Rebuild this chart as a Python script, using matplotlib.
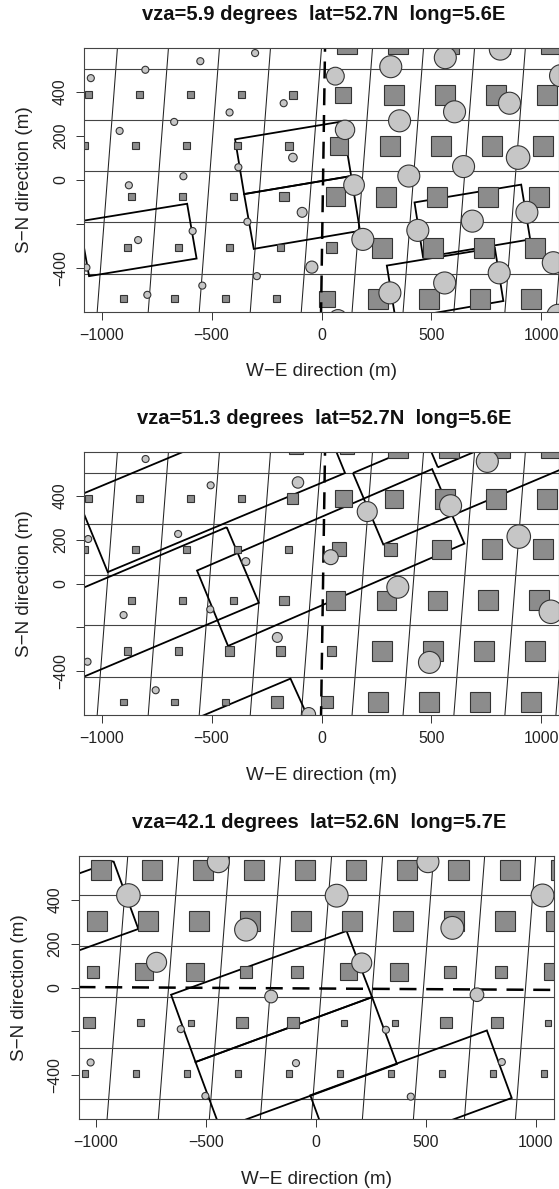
import matplotlib
matplotlib.use("Agg")
import matplotlib.pyplot as plt
from matplotlib.patches import Rectangle, Circle, Polygon

plt.rcParams['font.family'] = ['Liberation Sans', 'DejaVu Sans']

W, H = 559, 1189
titles = ["vza=5.9 degrees  lat=52.7N  long=5.6E",
          "vza=51.3 degrees  lat=52.7N  long=5.6E",
          "vza=42.1 degrees  lat=52.6N  long=5.7E"]

# Thin grid: panels 1 and 2 share it
hlines_a = [504, 272, 41, -191, -425]
vtop_a = [-928, -696, -464, -232, 0, 232, 464, 696, 927, 1160]
vbot_a = [-1020, -788, -556, -324, -92, 139, 371, 602, 834, 1066]
hlines_c = [420, 188, -44, -276, -508]
vtop_c = [-856, -624, -393, -161, 71, 303, 535, 767, 999]
vbot_c = [-950, -717, -485, -253, -21, 211, 443, 675, 907]

# Square lattice, panels 1 and 2
sq_a_y = [620, 387, 156, -76, -308, -540]
sq_a_x = [
    [-117, 115, 349, 581, 813, 1044],
    [-1059, -827, -595, -363, -131, 99, 331, 563, 795, 1027],
    [-1077, -845, -613, -381, -149, 81, 313, 545, 777, 1009],
    [-863, -631, -402, -171, 63, 295, 527, 759, 991],
    [-882, -650, -418, -186, 44, 276, 508, 740, 972],
    [-900, -668, -436, -204, 26, 258, 490, 722, 954],
]
sq1_side = [
    [20, 91, 91, 91, 91, 91],
    [32, 32, 32, 32, 36, 71, 91, 91, 91, 91],
    [32, 32, 32, 32, 36, 81, 91, 91, 91, 91],
    [32, 32, 32, 42, 88, 91, 91, 91, 91],
    [32, 32, 32, 32, 49, 91, 91, 91, 91],
    [32, 32, 32, 32, 75, 91, 91, 91, 91],
]
sq2_side = [
    [62, 62, 91, 91, 91, 91],
    [32, 32, 32, 32, 49, 78, 81, 91, 91, 91],
    [30, 32, 30, 32, 32, 65, 62, 88, 91, 91],
    [32, 32, 32, 42, 88, 88, 88, 91, 91],
    [32, 32, 42, 42, 42, 91, 91, 91, 91],
    [30, 30, 30, 55, 55, 91, 91, 91, 91],
]
# Square lattice, panel 3
sq3_y = [536, 304, 71, -161, -393]
sq3_x = [
    [-976, -744, -512, -280, -48, 184, 416, 648, 880, 1112],
    [-996, -764, -532, -300, -68, 164, 396, 628, 860, 1092],
    [-1014, -782, -550, -318, -86, 146, 378, 610, 842, 1074],
    [-1032, -800, -568, -336, -104, 128, 360, 592, 824, 1056],
    [-1051, -819, -587, -355, -123, 109, 341, 573, 805, 1037],
]
sq3_side = [
    [91] * 10,
    [91] * 10,
    [52, 78, 81, 52, 52, 78, 81, 52, 52, 78],
    [52, 32, 29, 52, 52, 29, 29, 52, 52, 29],
    [29] * 10,
]

# Circles: x, y, diameter
c1_x = [-1049, -801, -551, -302, -172, -418, -670, -918, -130, -378, -628, -876, -88, -337, -586, -834, -44, -294, -542, -792, -1069,
        63, 315, 563, 813, 355, 605, 855, 1087, 107, 894, 646, 397, 148, 934, 686, 438, 188, 1054, 808, 560, 311, 75, 1075]
c1_y = [463, 501, 540, 577, 349, 307, 264, 223, 102, 58, 17, -24, -147, -190, -232, -273, -396, -437, -480, -522, -398,
        472, 515, 556, 595, 269, 310, 349, 474, 228, 102, 61, 18, -23, -147, -187, -229, -270, -376, -422, -468, -513, -630, -615]
c1_d = [32, 32, 32, 32, 32, 32, 32, 32, 39, 32, 32, 32, 45, 32, 32, 32, 55, 32, 32, 32, 32,
        81, 100, 100, 100, 100, 100, 100, 100, 88, 107, 100, 100, 94, 100, 100, 100, 100, 100, 100, 100, 100, 82, 100]
c2_x = [-800, -504, -107, -652, -1061, 208, 587, 754, 897, 42, -344, 347, 1043, -506, -900, -201, -1064, 491, -754, -58]
c2_y = [568, 448, 461, 226, 203, 328, 355, 557, 214, 120, 100, -17, -129, -118, -144, -246, -357, -360, -487, -597]
c2_d = [32, 32, 52, 32, 32, 91, 100, 100, 107, 68, 36, 100, 107, 32, 32, 45, 32, 100, 32, 62]
c3_x = [-444, 509, -853, 94, 1030, -318, 620, -725, 208, -204, 732, -615, 318, -1025, -91, 845, -503, 431]
c3_y = [574, 574, 420, 419, 420, 264, 272, 115, 112, -41, -33, -190, -193, -342, -345, -340, -495, -498]
c3_d = [100, 100, 107, 104, 104, 104, 104, 91, 91, 58, 62, 32, 32, 32, 32, 32, 32, 32]

# Tilted footprints (corner lists)
poly1 = [
    [(-611, -108), (-568, -357), (-1057, -437), (-1101, -188)],
    [(-393, 185), (94, 266), (135, 18), (-352, -64)],
    [(135, 18), (175, -231), (-308, -313), (-352, -64)],
    [(423, -102), (908, -21), (949, -270), (462, -352)],
    [(297, -389), (788, -308), (827, -550), (337, -635)],
]
poly2 = [
    [(-972, 52), (107, 504), (-34, 850), (-1113, 398)],
    [(-431, 257), (-285, -88), (-1361, -544), (-1507, -199)],
    [(-566, 59), (503, 522), (650, 182), (-425, -285)],
    [(143, 504), (281, 178), (1357, 634), (1219, 960)],
    [(529, 530), (1605, 986), (1495, 1246), (419, 790)],
    [(-141, -434), (-1217, -890), (-1097, -1155), (-21, -699)],
]
poly3 = [
    [(-659, -33), (139, 258), (255, -44), (-548, -340)],
    [(-548, -340), (255, -44), (368, -349), (-435, -645)],
    [(-26, -492), (777, -196), (890, -504), (87, -800)],
    [(-921, 577), (-808, 267), (-1611, -24), (-1724, 286)],
]

dash1 = ([16, -2], [600, -600])
dash3 = ([-1080, 1080], [2, -11])

panels = [
    dict(box=(84, 48, 475, 264), tx=324, ty=15, hl=hlines_a, vt=vtop_a, vb=vbot_a,
         sx=sq_a_x, sy=sq_a_y, ss=sq1_side, cx=c1_x, cy=c1_y, cd=c1_d, poly=poly1, dash=dash1, off=5.3),
    dict(box=(84, 452, 475, 263), tx=324, ty=418, hl=hlines_a, vt=vtop_a, vb=vbot_a,
         sx=sq_a_x, sy=sq_a_y, ss=sq2_side, cx=c2_x, cy=c2_y, cd=c2_d, poly=poly2, dash=dash1, off=5.3),
    dict(box=(78.5, 856, 475, 263), tx=319, ty=822, hl=hlines_c, vt=vtop_c, vb=vbot_c,
         sx=sq3_x, sy=sq3_y, ss=sq3_side, cx=c3_x, cy=c3_y, cd=c3_d, poly=poly3, dash=dash3, off=0),
]

fig = plt.figure(figsize=(W / 100, H / 100), dpi=100)
GR = '#333333'
for i, p in enumerate(panels):
    l, t, w, h = p['box']
    ax = fig.add_axes([l / W, 1 - (t + h) / H, w / W, h / H])
    ax.set_xlim(-1080, 1080)
    ax.set_ylim(-600, 600)
    for s in ax.spines.values():
        s.set_linewidth(0.8)
        s.set_color('#444444')
        s.set_zorder(8)
    for y, xs, sides in zip(p['sy'], p['sx'], p['ss']):
        for x, a in zip(xs, sides):
            ax.add_patch(Rectangle((x - a / 2, y - a / 2), a, a, fc='#8c8c8c', ec='#333333', lw=0.8, zorder=2))
    for a, b in zip(p['vt'], p['vb']):
        ax.plot([a, b], [600, -600], color='#222222', lw=0.75, zorder=1)
    for y in p['hl']:
        ax.axhline(y, color='#444444', lw=0.8, zorder=1)
    for pts in p['poly']:
        ax.add_patch(Polygon(pts, closed=True, fc='none', ec='black', lw=1.3, zorder=1.5, joinstyle='miter'))
    ax.plot(*p['dash'], color='black', lw=1.8, ls=(p['off'], (6.8, 3.9)), zorder=4)
    for x, y, d in zip(p['cx'], p['cy'], p['cd']):
        ax.add_patch(Circle((x, y), d / 2, fc='#c6c6c6', ec='#333333', lw=0.8, zorder=5))
    ax.set_xticks([-1000, -500, 0, 500, 1000])
    ax.set_xticklabels(['\u22121000', '\u2212500', '0', '500', '1000'])
    ax.set_yticks([-400, -200, 0, 200, 400])
    ax.set_yticklabels(['\u2212400', '', '0', '200', '400'], rotation=90, va='center')
    ax.tick_params(axis='both', length=5.5, width=0.7, color=GR, labelsize=11.4, labelcolor='#222222', pad=6)
    fig.text(p['tx'] / W, 1 - p['ty'] / H, titles[i], ha='center', va='center', fontsize=14.5, fontweight='bold', color='#111111')
    cx = l + (321.6 - 84)
    fig.text(cx / W, 1 - (t + h + 60) / H, 'W\u2212E direction (m)', ha='center', va='center', fontsize=13.6, color='#222222')
    fig.text((l - 59) / W, 1 - (t + h / 2) / H, 'S\u2212N direction (m)', ha='center', va='center', rotation=90, fontsize=13.6, color='#222222')

fig.savefig('out.png', dpi=100)
